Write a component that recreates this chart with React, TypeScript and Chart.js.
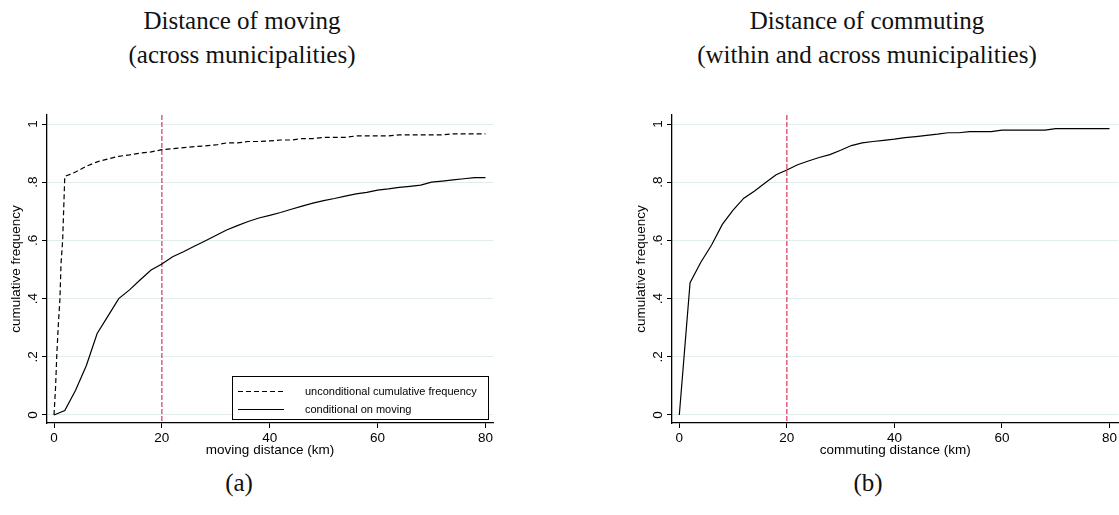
import React, { useEffect, useRef } from 'react';
import { Chart, registerables } from 'chart.js';

Chart.register(...registerables);

// ---------- data ----------
const moveUncondX = [0, 0.3, 0.5, 0.8, 1.1, 1.3, 1.6, 2, 4, 6, 8, 10, 12, 14, 16, 18, 20, 22, 24, 26, 28, 30, 32, 34, 36, 38, 40, 42, 44, 46, 48, 50, 52, 54, 56, 58, 60, 62, 64, 66, 68, 70, 72, 74, 76, 78, 80];
const moveUncondY = [0, 0.1, 0.2, 0.31, 0.4, 0.52, 0.6, 0.82, 0.835, 0.855, 0.87, 0.88, 0.889, 0.894, 0.9, 0.904, 0.912, 0.915, 0.919, 0.922, 0.925, 0.928, 0.935, 0.935, 0.94, 0.94, 0.942, 0.945, 0.945, 0.95, 0.95, 0.954, 0.954, 0.954, 0.959, 0.959, 0.959, 0.959, 0.963, 0.963, 0.963, 0.963, 0.963, 0.966, 0.966, 0.966, 0.966];

const moveCondX = [0, 2, 4, 6, 8, 10, 12, 14, 16, 18, 20, 22, 24, 26, 28, 30, 32, 34, 36, 38, 40, 42, 44, 46, 48, 50, 52, 54, 56, 58, 60, 62, 64, 66, 68, 70, 72, 74, 76, 78, 80];
const moveCondY = [0, 0.015, 0.085, 0.17, 0.28, 0.34, 0.4, 0.43, 0.465, 0.498, 0.519, 0.544, 0.561, 0.58, 0.598, 0.617, 0.636, 0.651, 0.665, 0.677, 0.686, 0.696, 0.707, 0.718, 0.728, 0.737, 0.744, 0.752, 0.76, 0.765, 0.773, 0.777, 0.782, 0.786, 0.79, 0.8, 0.804, 0.808, 0.812, 0.816, 0.816];

const commuteX = [0, 2, 4, 6, 8, 10, 12, 14, 16, 18, 20, 22, 24, 26, 28, 30, 32, 34, 36, 38, 40, 42, 44, 46, 48, 50, 52, 54, 56, 58, 60, 62, 64, 66, 68, 70, 72, 74, 76, 78, 80];
const commuteY = [0, 0.455, 0.525, 0.584, 0.655, 0.704, 0.745, 0.77, 0.798, 0.826, 0.842, 0.86, 0.873, 0.885, 0.895, 0.91, 0.926, 0.935, 0.94, 0.944, 0.948, 0.953, 0.957, 0.961, 0.965, 0.97, 0.97, 0.974, 0.974, 0.974, 0.979, 0.979, 0.979, 0.979, 0.979, 0.984, 0.984, 0.984, 0.984, 0.984, 0.984];

const seriesLabels = ['unconditional cumulative frequency', 'conditional on moving', 'cumulative frequency'];
const xTickValues = [0, 20, 40, 60, 80];
const yTickValues = [0, 0.2, 0.4, 0.6, 0.8, 1];
const yTickLabels = ['0', '.2', '.4', '.6', '.8', '1'];
const refDistance = 20;
const yAxisTitle = 'cumulative frequency';
const xAxisTitles = ['moving distance (km)', 'commuting distance (km)'];
const panelTitles = [
  ['Distance of moving', '(across municipalities)'],
  ['Distance of commuting', '(within and across municipalities)'],
];
const captions = ['(a)', '(b)'];

// ---------- styles ----------
const SANS = '"Liberation Sans", Arial, Helvetica, sans-serif';
const SERIF = '"Liberation Serif", "DejaVu Serif", "Times New Roman", serif';
const GRID = '#e2ebed';
const REF_COLOR = '#d9365e';

const toPoints = (xs: number[], ys: number[]) => xs.map((x, i) => ({ x, y: ys[i] }));

const refLinePlugin = {
  id: 'refLine',
  beforeDatasetsDraw(chart: any) {
    const { ctx, chartArea, scales } = chart;
    const px = scales.x.getPixelForValue(refDistance);
    ctx.save();
    ctx.strokeStyle = REF_COLOR;
    ctx.lineWidth = 1.2;
    ctx.setLineDash([5, 2]);
    ctx.beginPath();
    ctx.moveTo(px, chartArea.top);
    ctx.lineTo(px, chartArea.bottom);
    ctx.stroke();
    ctx.restore();
  },
};

const yTicksPlugin = {
  id: 'rotatedYTicks',
  afterDraw(chart: any) {
    const { ctx, scales } = chart;
    const ys = scales.y;
    ctx.save();
    ctx.fillStyle = '#000';
    ctx.font = `13.5px ${SANS}`;
    ctx.textAlign = 'center';
    ctx.textBaseline = 'alphabetic';
    yTickValues.forEach((v, i) => {
      const py = ys.getPixelForValue(v);
      ctx.save();
      ctx.translate(ys.right - 10, py);
      ctx.rotate(-Math.PI / 2);
      ctx.fillText(yTickLabels[i], 0, 0);
      ctx.restore();
    });
    ctx.restore();
  },
};

const boxLegendPlugin = {
  id: 'boxLegend',
  afterDraw(chart: any) {
    if (!chart.options.plugins.boxLegend?.show) return;
    const { ctx, chartArea } = chart;
    const w = 256;
    const h = 43;
    const right = chartArea.right - 5;
    const bottom = chartArea.bottom - 4;
    const left = right - w;
    const top = bottom - h;
    ctx.save();
    ctx.fillStyle = '#fff';
    ctx.fillRect(left, top, w, h);
    ctx.strokeStyle = '#000';
    ctx.lineWidth = 1;
    ctx.strokeRect(Math.round(left) + 0.5, Math.round(top) + 0.5, w, h);
    ctx.font = `11px ${SANS}`;
    ctx.textBaseline = 'middle';
    ctx.textAlign = 'left';
    chart.data.datasets.forEach((ds: any, i: number) => {
      const y = Math.round(top + 15 + i * 17.5) + 0.5;
      ctx.strokeStyle = '#000';
      ctx.lineWidth = 1.2;
      ctx.setLineDash(ds.borderDash || []);
      ctx.beginPath();
      ctx.moveTo(left + 6, y);
      ctx.lineTo(left + 52, y);
      ctx.stroke();
      ctx.setLineDash([]);
      ctx.fillStyle = '#000';
      ctx.fillText(ds.label, left + 73, y);
    });
    ctx.restore();
  },
};

type PanelProps = {
  datasets: any[];
  xTitle: string;
  xMin: number;
  xMax: number;
  left: number;
  width: number;
  padRight: number;
  legend: boolean;
};

function Panel({ datasets, xTitle, xMin, xMax, left, width, padRight, legend }: PanelProps) {
  const ref = useRef<HTMLCanvasElement | null>(null);
  useEffect(() => {
    if (!ref.current) return;
    Chart.defaults.font.family = SANS;
    Chart.defaults.color = '#000';
    const chart = new Chart(ref.current, {
      type: 'line',
      data: { datasets },
      plugins: [refLinePlugin, yTicksPlugin, boxLegendPlugin],
      options: {
        responsive: false,
        animation: false,
        events: [],
        layout: { padding: { top: 15, right: padRight, left: 0, bottom: 0 } },
        elements: { point: { radius: 0 }, line: { tension: 0 } },
        plugins: {
          legend: { display: false },
          tooltip: { enabled: false },
          boxLegend: { show: legend },
        } as any,
        scales: {
          x: {
            type: 'linear',
            min: xMin,
            max: xMax,
            afterBuildTicks: (scale: any) => {
              scale.ticks = xTickValues.map((v) => ({ value: v }));
            },
            afterFit: (scale: any) => {
              scale.height = 42;
            },
            ticks: {
              font: { size: 13.5 },
              color: '#000',
              padding: 2,
              maxRotation: 0,
              autoSkip: false,
              callback: (v: any) => String(v),
            },
            grid: { display: true, drawOnChartArea: false, drawTicks: true, tickLength: 5, tickColor: '#000', tickWidth: 1 },
            border: { display: true, color: '#000', width: 1.3 },
            title: { display: true, text: xTitle, font: { size: 13.5 }, color: '#000', padding: { top: 0, bottom: 7 } },
          },
          y: {
            type: 'linear',
            min: -0.0275,
            max: 1.031,
            afterBuildTicks: (scale: any) => {
              scale.ticks = yTickValues.map((v) => ({ value: v }));
            },
            afterFit: (scale: any) => {
              scale.width = 47;
            },
            ticks: { display: false },
            grid: { display: true, color: GRID, lineWidth: 1, drawTicks: true, tickLength: 5, tickColor: '#000', tickWidth: 1 },
            border: { display: true, color: '#000', width: 1.3 },
            title: { display: true, text: yAxisTitle, font: { size: 13.5 }, color: '#000', padding: { top: 8, bottom: 0 } },
          },
        },
      } as any,
    });
    return () => chart.destroy();
  }, []);
  return (
    <canvas
      ref={ref}
      width={width}
      height={365}
      style={{ position: 'absolute', left, top: 100, width, height: 365 }}
    />
  );
}

const titleStyle: React.CSSProperties = {
  position: 'absolute',
  top: 4,
  textAlign: 'center',
  fontFamily: SERIF,
  fontSize: 25,
  lineHeight: '34px',
  color: '#111',
  whiteSpace: 'nowrap',
};

const captionStyle: React.CSSProperties = {
  position: 'absolute',
  top: 468,
  width: 100,
  textAlign: 'center',
  fontFamily: SERIF,
  fontSize: 25,
  lineHeight: '30px',
  color: '#111',
};

export default function App() {
  const movingDatasets = [
    {
      label: seriesLabels[0],
      data: toPoints(moveUncondX, moveUncondY),
      borderColor: '#000',
      borderWidth: 1.2,
      borderDash: [5, 3],
      fill: false,
      pointRadius: 0,
    },
    {
      label: seriesLabels[1],
      data: toPoints(moveCondX, moveCondY),
      borderColor: '#000',
      borderWidth: 1.2,
      fill: false,
      pointRadius: 0,
    },
  ];
  const commuteDatasets = [
    {
      label: seriesLabels[2],
      data: toPoints(commuteX, commuteY),
      borderColor: '#000',
      borderWidth: 1.2,
      fill: false,
      pointRadius: 0,
    },
  ];
  return (
    <div style={{ position: 'absolute', left: 0, top: 0, width: 1119, height: 515, background: '#fff', overflow: 'hidden' }}>
      <div style={{ ...titleStyle, left: 0, width: 484 }}>
        {panelTitles[0][0]}
        <br />
        {panelTitles[0][1]}
      </div>
      <div style={{ ...titleStyle, left: 567, width: 600 }}>
        {panelTitles[1][0]}
        <br />
        {panelTitles[1][1]}
      </div>
      <Panel datasets={movingDatasets} xTitle={xAxisTitles[0]} xMin={-1.3} xMax={81.4} left={0} width={505} padRight={12} legend={true} />
      <Panel datasets={commuteDatasets} xTitle={xAxisTitles[1]} xMin={-1.36} xMax={81.67} left={625} width={494} padRight={0} legend={false} />
      <div style={{ ...captionStyle, left: 189 }}>{captions[0]}</div>
      <div style={{ ...captionStyle, left: 818 }}>{captions[1]}</div>
    </div>
  );
}
